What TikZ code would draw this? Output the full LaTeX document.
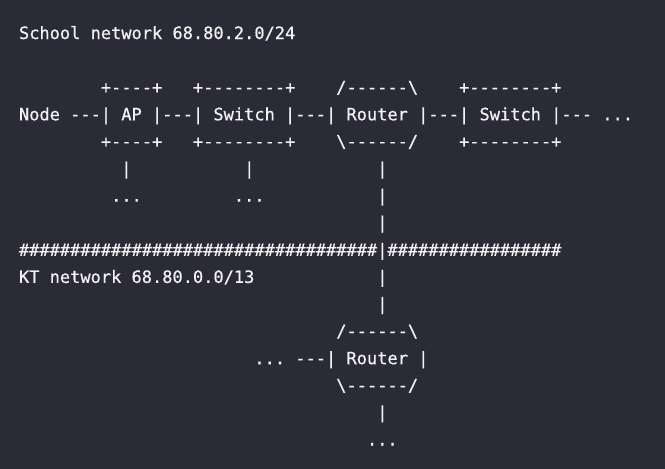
\documentclass[tikz,border=0pt]{standalone}
\usepackage{fontspec}
\setmonofont[FakeBold=0.6]{DejaVu Sans Mono}
\definecolor{bg}{HTML}{2A2B37}
\definecolor{fg}{HTML}{F2F2F2}
\tikzset{ln/.style={anchor=base west, inner sep=0pt, outer sep=0pt, text=fg,
  font=\ttfamily\fontsize{17}{20}\selectfont\frenchspacing}}
\def\cw{10.235}
\def\lh{27.1}
\begin{document}
\begin{tikzpicture}[x=1pt,y=1pt]
\fill[bg] (0,0) rectangle (665,-469);
\useasboundingbox (0,0) rectangle (665,-469);
\node[ln] (l0) at ({19+0*\cw},{-39-0*\lh}) {School network 68.80.2.0/24};
\node[ln] (l2) at ({19+8*\cw},{-39-2*\lh}) {+----+~~~+--------+~~~~/------\textbackslash~~~~+--------+};
\node[ln] (l3) at ({19+0*\cw},{-39-3*\lh}) {Node ---| AP |---| Switch |---| Router |---| Switch |--- ...};
\node[ln] (l4) at ({19+8*\cw},{-39-4*\lh}) {+----+~~~+--------+~~~~\textbackslash------/~~~~+--------+};
\node[ln] (l5a) at ({19+10*\cw},{-39-5*\lh}) {|};
\node[ln] (l5b) at ({19+22*\cw},{-39-5*\lh}) {|};
\node[ln] (l5c) at ({19+35*\cw},{-39-5*\lh}) {|};
\node[ln] (l6a) at ({19+9*\cw},{-39-6*\lh}) {...};
\node[ln] (l6b) at ({19+21*\cw},{-39-6*\lh}) {...};
\node[ln] (l6c) at ({19+35*\cw},{-39-6*\lh}) {|};
\node[ln] (l7) at ({19+35*\cw},{-39-7*\lh}) {|};
\node[ln] (l8) at ({19+0*\cw},{-39-8*\lh}) {\#\#\#\#\#\#\#\#\#\#\#\#\#\#\#\#\#\#\#\#\#\#\#\#\#\#\#\#\#\#\#\#\#\#\#|\#\#\#\#\#\#\#\#\#\#\#\#\#\#\#\#\#};
\node[ln] (l9a) at ({19+0*\cw},{-39-9*\lh}) {KT network 68.80.0.0/13};
\node[ln] (l9b) at ({19+35*\cw},{-39-9*\lh}) {|};
\node[ln] (l10) at ({19+35*\cw},{-39-10*\lh}) {|};
\node[ln] (l11) at ({19+31*\cw},{-39-11*\lh}) {/------\textbackslash};
\node[ln] (l12) at ({19+23*\cw},{-39-12*\lh}) {... ---| Router |};
\node[ln] (l13) at ({19+31*\cw},{-39-13*\lh}) {\textbackslash------/};
\node[ln] (l14) at ({19+35*\cw},{-39-14*\lh}) {|};
\node[ln] (l15) at ({19+34*\cw},{-39-15*\lh}) {...};
\end{tikzpicture}
\end{document}
